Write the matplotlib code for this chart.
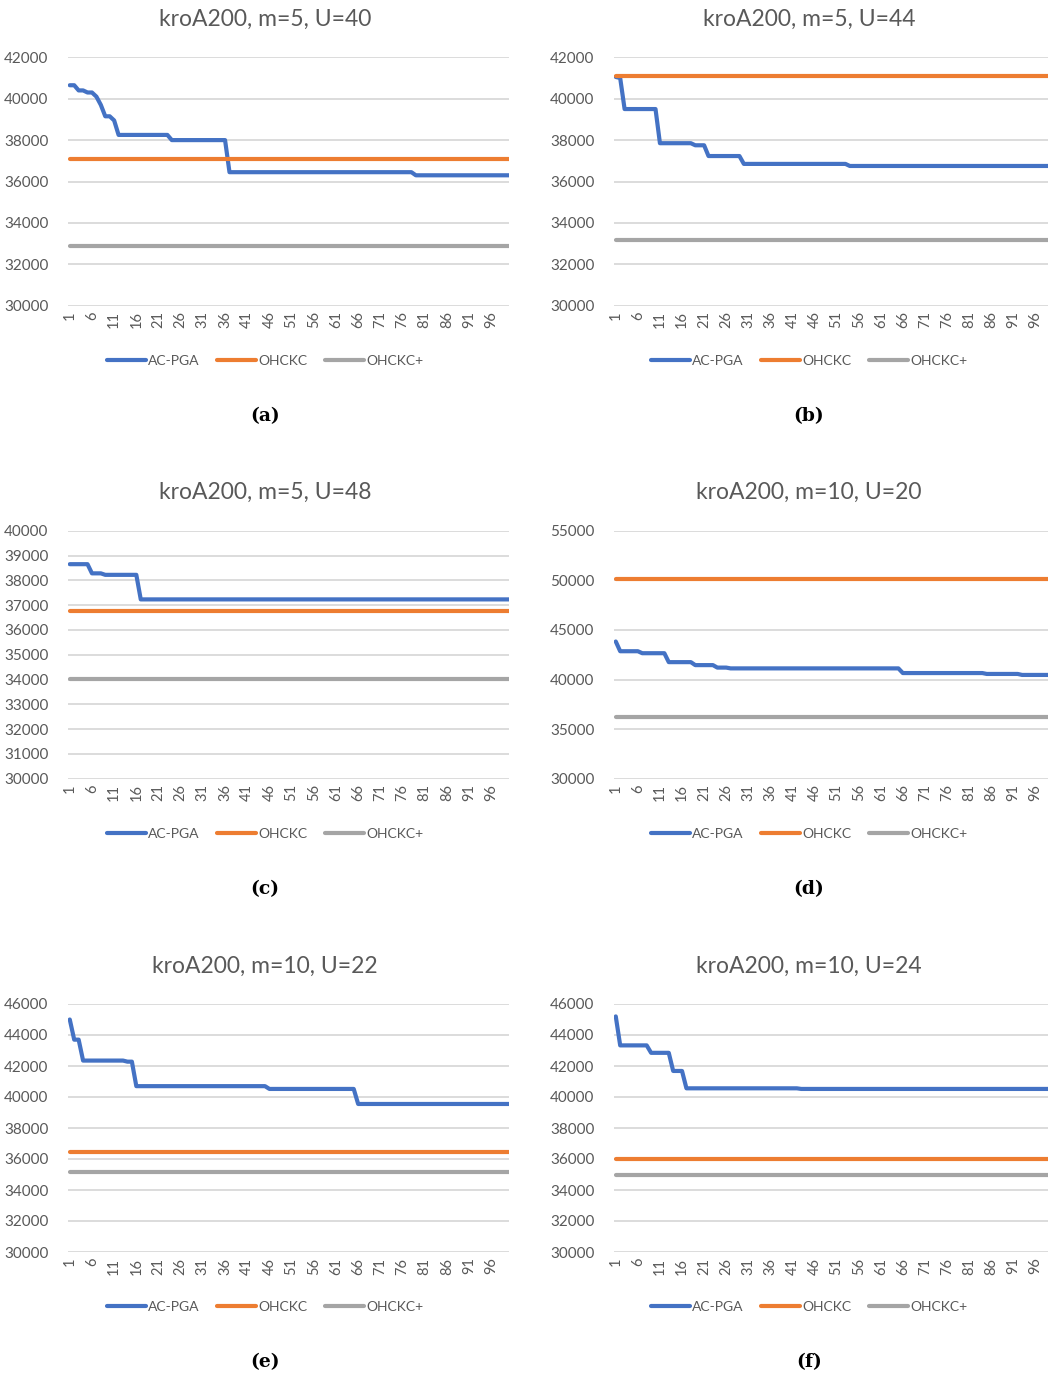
import numpy as np
import matplotlib
matplotlib.use("Agg")
import matplotlib.pyplot as plt

plt.rcParams['font.family'] = ['Lato', 'DejaVu Sans']

x = np.arange(1, 101)
xticks = np.arange(1, 101, 5)

# AC-PGA curves, stored as step values and how many iterations each lasts
acpga_a_vals = [40650, 40400, 40300, 40100, 39700, 39150, 38950, 38250, 38000, 36450, 36300]
acpga_a_runs = [2, 2, 2, 1, 1, 2, 1, 12, 13, 42, 22]
acpga_b_vals = [41050, 41000, 39500, 37850, 37750, 37230, 36850, 36750]
acpga_b_runs = [1, 1, 8, 8, 3, 8, 24, 47]
acpga_c_vals = [38650, 38280, 38220, 37230]
acpga_c_runs = [5, 3, 8, 84]
acpga_d_vals = [43830, 42850, 42650, 41750, 41450, 41200, 41120, 40650, 40560, 40460]
acpga_d_runs = [1, 5, 6, 6, 5, 3, 39, 19, 8, 8]
acpga_e_vals = [45000, 43700, 42350, 42280, 40700, 40520, 39550]
acpga_e_runs = [1, 2, 10, 2, 30, 20, 35]
acpga_f_vals = [45200, 43330, 42850, 41680, 40560, 40520]
acpga_f_runs = [1, 7, 5, 3, 26, 58]

ohckc = [37100, 41080, 36760, 50140, 36450, 36020]
ohckc_plus = [32900, 33160, 34030, 36210, 35140, 34970]

titles = ["kroA200, m=5, U=40", "kroA200, m=5, U=44", "kroA200, m=5, U=48",
          "kroA200, m=10, U=20", "kroA200, m=10, U=22", "kroA200, m=10, U=24"]
sublabels = ["(a)", "(b)", "(c)", "(d)", "(e)", "(f)"]
yticks = [range(30000, 42001, 2000), range(30000, 42001, 2000), range(30000, 40001, 1000),
          range(30000, 55001, 5000), range(30000, 46001, 2000), range(30000, 46001, 2000)]

acpga = [np.repeat(acpga_a_vals, acpga_a_runs), np.repeat(acpga_b_vals, acpga_b_runs),
         np.repeat(acpga_c_vals, acpga_c_runs), np.repeat(acpga_d_vals, acpga_d_runs),
         np.repeat(acpga_e_vals, acpga_e_runs), np.repeat(acpga_f_vals, acpga_f_runs)]

W, H = 1048, 1374
fig = plt.figure(figsize=(W / 100, H / 100), dpi=100)

txt = '#595959'
cols = [(68, 509), (614, 1053)]
rows = [(57.3, 305.7), (530.7, 778.7), (1004, 1252)]
centers = [265, 809]

for i in range(6):
    r, c = i // 2, i % 2
    x0, x1 = cols[c]
    top, bot = rows[r]
    ax = fig.add_axes([x0 / W, 1 - bot / H, (x1 - x0) / W, (bot - top) / H])
    ax.plot(x, acpga[i], color='#4472C4', lw=3, label='AC-PGA', solid_capstyle='round', zorder=3)
    ax.plot(x, [ohckc[i]] * 100, color='#ED7D31', lw=3, label='OHCKC', solid_capstyle='round', zorder=3)
    ax.plot(x, [ohckc_plus[i]] * 100, color='#A5A5A5', lw=3, label='OHCKC+', solid_capstyle='round', zorder=3)
    ax.set_xlim(0.6, 100)
    yt = list(yticks[i])
    ax.set_ylim(yt[0], yt[-1])
    ax.set_yticks(yt)
    ax.set_xticks(xticks)
    ax.set_xticklabels([str(v) for v in xticks], rotation=90)
    ax.grid(axis='y', color='#D9D9D9', lw=1.3)
    ax.set_axisbelow(True)
    for s in ax.spines.values():
        s.set_visible(False)
    ax.tick_params(length=0, labelsize=10.5, labelcolor=txt)
    ax.tick_params(axis='y', pad=14, labelsize=11)
    ax.tick_params(axis='x', pad=4)
    cx = centers[c] / W
    fig.text(cx, 1 - (bot - 286) / H, titles[i], ha='center', va='center', fontsize=16.5, color=txt)
    ax.legend(loc='center', bbox_to_anchor=(cx, 1 - (bot + 55) / H), bbox_transform=fig.transFigure,
              ncol=3, frameon=False, fontsize=10, handlelength=2.8, handletextpad=0.15,
              columnspacing=1.3, labelcolor=txt)
    fig.text(cx, 1 - (bot + 110) / H, sublabels[i], ha='center', va='center', fontsize=13.5,
             fontweight='bold', family='DejaVu Serif', color='black')

fig.savefig("out.png", dpi=100)
plt.close('all')
